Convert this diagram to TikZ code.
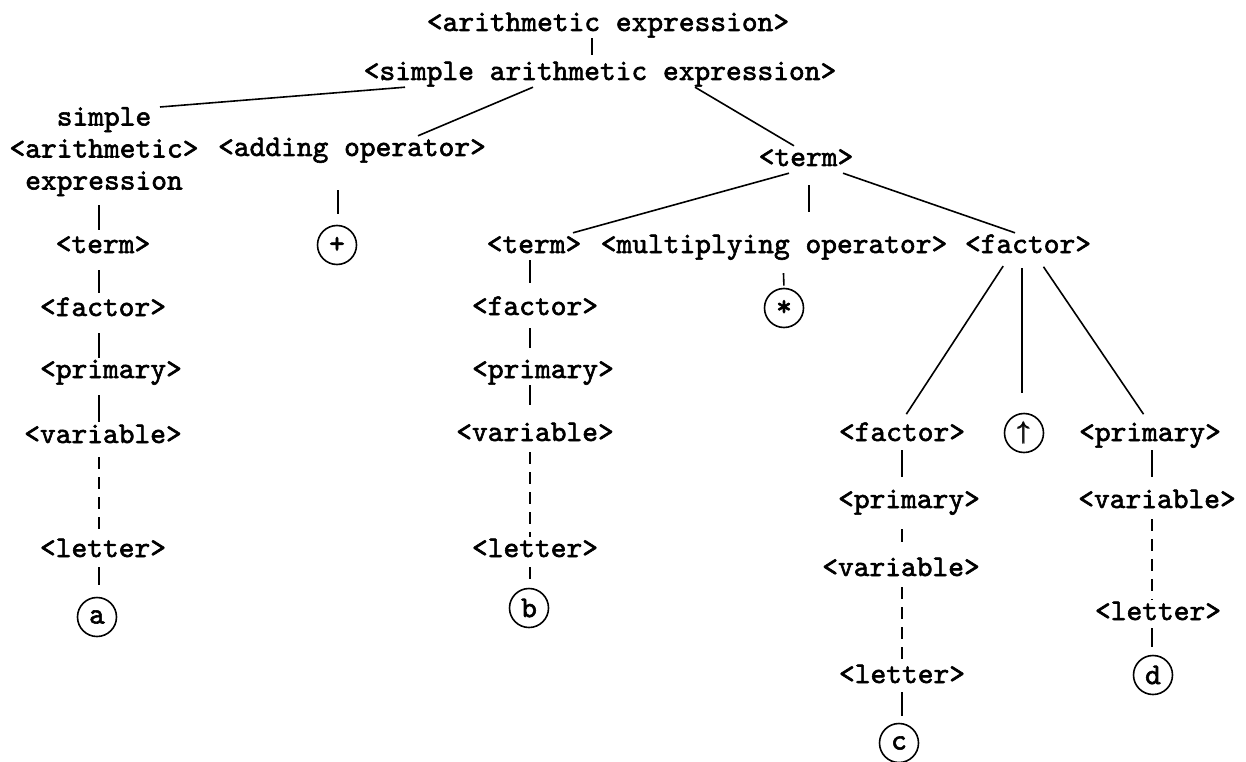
\documentclass[tikz,border=0pt]{standalone}
\usepackage{amsmath}
\usepackage{fontspec}
\newfontfamily\tw{lmmono10-regular.otf}[FakeBold=2]
\begin{document}
\begin{tikzpicture}[x=1pt,y=-1pt,
  every node/.style={inner sep=0pt},
  lab/.style={font=\tw\fontsize{30}{32}\selectfont, anchor=base, text height=20pt, text depth=7pt},
  multi/.style={font=\tw\fontsize{30}{32}\selectfont, align=center, anchor=north},
  leaf/.style={draw, circle, line width=1.6pt, minimum size=39pt, font=\tw\fontsize{30}{32}\selectfont},
  link/.style={line width=1.6pt},
  dlink/.style={line width=1.6pt, dash pattern=on 12pt off 8pt}]
\useasboundingbox (0,0) rectangle (1246,762);

% top
\node[lab] (T0) at (608,31) {<arithmetic expression>};
\node[lab] (T1) at (600,80) {<simple arithmetic expression>};
\node[multi] (S) at (104,107) {simple\\<arithmetic>\\expression};
\node[lab] (A) at (352,156) {<adding operator>};
\node[leaf] (P) at (337,245) {+};
\node[lab] (R) at (806,166) {<term>};
\node[lab] (M) at (534,253) {<term>};
\node[lab] (MO) at (774,253) {<multiplying operator>};
\node[lab] (F) at (1028,253) {<factor>};
\node[leaf] (St) at (784,308) {\raisebox{-0.22em}{*}};

% left column
\node[lab] (L1) at (103,253) {<term>};
\node[lab] (L2) at (103,316) {<factor>};
\node[lab] (L3) at (111,378) {<primary>};
\node[lab] (L4) at (103,443) {<variable>};
\node[lab] (L5) at (103,557) {<letter>};
\node[leaf] (La) at (97,617) {a};

% middle column
\node[lab] (M2) at (535,315) {<factor>};
\node[lab] (M3) at (543,378) {<primary>};
\node[lab] (M4) at (535,441) {<variable>};
\node[lab] (M5) at (535,557) {<letter>};
\node[leaf] (Mb) at (529,608) {b};

% lower right
\node[lab] (C1) at (902,441) {<factor>};
\node[leaf] (U) at (1024,433) {$\pmb{\uparrow}$};
\node[lab] (D1) at (1150,441) {<primary>};
\node[lab] (C2) at (909,508) {<primary>};
\node[lab] (C3) at (901,576) {<variable>};
\node[lab] (C4) at (902,683) {<letter>};
\node[leaf] (Cc) at (899,743) {c};
\node[lab] (D2) at (1157,508) {<variable>};
\node[lab] (D3) at (1158,620) {<letter>};
\node[leaf] (Dd) at (1153,675) {d};

% connectors: top
\draw[link, shorten >=5pt] ([xshift=-16]T0.south) -- ([xshift=-8]T1.north);
\draw[link] ([xshift=-195]T1.south) -- ([xshift=56]S.north);
\draw[link] ([xshift=-67]T1.south) -- ([xshift=66]A.north);
\draw[link] ([xshift=95]T1.south) -- ([xshift=-12]R.north);
\draw[link, shorten <=27pt, shorten >=11pt] ([xshift=-14]A.south) -- ([xshift=1]P.north);
\draw[link] ([xshift=-17]R.south) -- ([xshift=39]M.north);
\draw[link, shorten <=12pt, shorten >=21pt] ([xshift=3]R.south) -- ([xshift=35]MO.north);
\draw[link] ([xshift=37]R.south) -- ([xshift=-13]F.north);
\draw[link, shorten <=13pt, shorten >=2pt] ([xshift=9]MO.south) -- (St.north);
\draw[link, shorten <=7pt, shorten >=8pt] ([xshift=-21]F.south) -- (C1.north);
\draw[link, shorten <=8pt, shorten >=20pt] ([xshift=-6]F.south) -- ([xshift=-2]U.north);
\draw[link, shorten <=8pt, shorten >=8pt] ([xshift=11]F.south) -- ([xshift=-2]D1.north);

% left column
\draw[link, shorten <=9pt, shorten >=3pt] ([xshift=-5]S.south) -- ([xshift=-4]L1.north);
\draw[link, shorten <=10pt, shorten >=3pt] ([xshift=-4]L1.south) -- ([xshift=-4]L2.north);
\draw[link, shorten <=10pt] ([xshift=-4]L2.south) -- ([xshift=-12]L3.north);
\draw[link, shorten <=10pt, shorten >=1pt] ([xshift=-12]L3.south) -- ([xshift=-4]L4.north);
\draw[dlink, shorten <=7pt] ([xshift=-4]L4.south) -- ([xshift=-4]L5.north);
\draw[link, shorten <=3pt, shorten >=12pt] ([xshift=-4]L5.south) -- ([xshift=2]La.north);

% middle column
\draw[link, shorten >=12pt] ([xshift=-4]M.south) -- ([xshift=-5]M2.north);
\draw[link, shorten <=6pt, shorten >=10pt] ([xshift=-5]M2.south) -- ([xshift=-13]M3.north);
\draw[link, shorten >=16pt] ([xshift=-13]M3.south) -- ([xshift=-5]M4.north);
\draw[dlink, shorten <=4pt] ([xshift=-5]M4.south) -- ([xshift=-5]M5.north);
\draw[link, shorten <=3pt, shorten >=9pt] ([xshift=-5]M5.south) -- ([xshift=1]Mb.north);

% lower right columns
\draw[link, shorten <=2pt, shorten >=11pt] (C1.south) -- ([xshift=-7]C2.north);
\draw[link, shorten <=14pt, shorten >=14pt] ([xshift=-7]C2.south) -- ([xshift=1]C3.north);
\draw[dlink, shorten <=4pt] ([xshift=1]C3.south) -- (C4.north);
\draw[link, shorten <=2pt, shorten >=7pt] (C4.south) -- ([xshift=3]Cc.north);
\draw[link, shorten <=2pt, shorten >=11pt] ([xshift=2]D1.south) -- ([xshift=-5]D2.north);
\draw[dlink, shorten <=4pt] ([xshift=-5]D2.south) -- ([xshift=-6]D3.north);
\draw[link, shorten <=1pt, shorten >=8pt] ([xshift=-6]D3.south) -- ([xshift=-1]Dd.north);
\end{tikzpicture}
\end{document}
